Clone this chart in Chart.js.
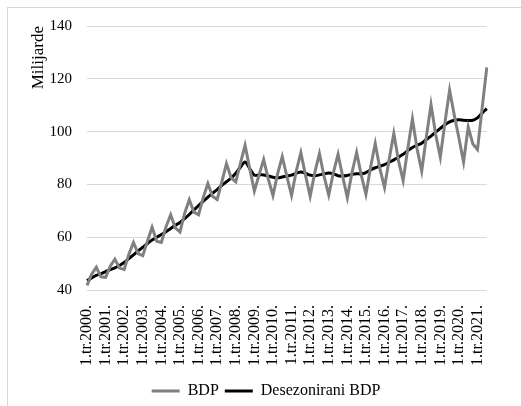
<!DOCTYPE html>
<html>
<head>
<meta charset="utf-8">
<script src="https://cdn.jsdelivr.net/npm/chart.js@4/dist/chart.umd.min.js"></script>
<style>
  html, body { margin: 0; padding: 0; background: #fff; overflow: hidden; }
  #wrap { position: relative; width: 521px; height: 406px; }
  #frame { position: absolute; left: 7px; top: 7px; width: 600px; height: 500px; border: 1px solid #d9d9d9; }
  canvas { position: absolute; left: 0; top: 0; }
</style>
</head>
<body>
<div id="wrap">
  <div id="frame"></div>
  <canvas id="myChart" width="521" height="406"></canvas>
</div>
<script>
// kvartali 2000Q1 - 2021Q3
const years = [2000, 2001, 2002, 2003, 2004, 2005, 2006, 2007, 2008, 2009, 2010,
  2011, 2012, 2013, 2014, 2015, 2016, 2017, 2018, 2019, 2020, 2021];
const lastQuarter = 3;

const bdp = [
  41.7, 46.0, 48.6, 45.0,
  44.8, 49.0, 51.7, 48.3,
  47.8, 53.5, 58.0, 53.8,
  53.0, 58.5, 63.8, 58.5,
  58.0, 64.0, 68.5, 63.5,
  62.0, 69.0, 74.2, 69.5,
  68.5, 75.0, 80.3, 75.5,
  74.3, 81.0, 87.9, 82.5,
  81.0, 88.0, 94.8, 86.0,
  77.5, 83.5, 89.4, 82.0,
  75.8, 84.0, 90.5, 83.0,
  75.8, 85.0, 92.0, 83.5,
  75.5, 84.5, 91.7, 83.0,
  76.0, 84.5, 91.4, 83.0,
  75.0, 84.5, 92.1, 83.5,
  76.2, 86.5, 95.5, 86.0,
  78.8, 89.5, 99.3, 89.0,
  81.5, 93.5, 104.8, 93.5,
  85.0, 98.0, 110.2, 99.0,
  90.3, 103.5, 115.7, 106.3,
  97.6, 88.5, 101.7, 95.3,
  93.2, 109.0, 124.3,
];

const desezonirani = [
  43.5, 44.6, 45.5, 46.2,
  47.0, 47.7, 48.4, 49.3,
  50.4, 51.9, 53.3, 54.8,
  56.2, 57.6, 58.9, 60.0,
  61.0, 62.1, 63.3, 64.5,
  65.6, 67.0, 68.6, 70.3,
  72.0, 73.6, 75.2, 76.7,
  78.0, 79.6, 81.0, 82.4,
  84.2, 86.5, 88.5, 86.0,
  83.5, 83.6, 83.6, 83.2,
  82.7, 82.5, 82.8, 83.2,
  83.5, 84.2, 84.7, 84.2,
  83.5, 83.3, 83.6, 84.0,
  84.3, 84.0, 83.3, 83.2,
  83.4, 83.8, 84.0, 84.0,
  84.5, 85.5, 86.3, 86.9,
  87.5, 88.4, 89.3, 90.3,
  91.4, 92.8, 94.0, 94.8,
  95.6, 97.0, 98.3, 99.8,
  101.2, 102.6, 103.7, 104.3,
  104.5, 104.3, 104.2, 104.3,
  105.2, 107.0, 108.7,
];

const yTicks = { min: 40, max: 140, step: 20 };

const labels = [];
years.forEach((y, i) => {
  const n = i === years.length - 1 ? lastQuarter : 4;
  for (let q = 1; q <= n; q++) labels.push(`${q}.tr.${y}.`);
});

const serif = "'Liberation Serif', 'Times New Roman', serif";

const myChart = new Chart(document.getElementById('myChart'), {
  type: 'line',
  data: {
    labels: labels,
    datasets: [
      {
        label: 'BDP',
        data: bdp,
        borderColor: '#808080',
        backgroundColor: '#808080',
        borderWidth: 3,
        pointRadius: 0,
        tension: 0,
      },
      {
        label: 'Desezonirani BDP',
        data: desezonirani,
        borderColor: '#000000',
        backgroundColor: '#000000',
        borderWidth: 3,
        pointRadius: 0,
        tension: 0.3,
      },
    ],
  },
  options: {
    responsive: false,
    animation: false,
    layout: { padding: { left: 24, right: 13, top: 26, bottom: -3 } },
    plugins: {
      tooltip: { enabled: false },
      legend: {
        position: 'bottom',
        labels: {
          usePointStyle: true,
          pointStyle: 'line',
          pointStyleWidth: 28,
          color: '#000',
          padding: 6,
          font: { family: serif, size: 16 },
        },
      },
    },
    scales: {
      x: {
        offset: false,
        grid: { display: false, drawTicks: false },
        border: { display: false },
        afterFit: (scale) => { scale.height = 87; },
        ticks: {
          autoSkip: false,
          minRotation: 90,
          maxRotation: 90,
          padding: 15,
          color: '#000',
          font: { family: serif, size: 16 },
          callback: function (val, index) {
            return index % 4 === 0 ? this.getLabelForValue(val) : '';
          },
        },
      },
      y: {
        min: yTicks.min,
        max: yTicks.max,
        afterFit: (scale) => { scale.width = 63; },
        grid: { color: '#d9d9d9', lineWidth: 1, drawTicks: false },
        border: { display: false },
        ticks: {
          stepSize: yTicks.step,
          padding: 15,
          color: '#000',
          font: { family: serif, size: 15 },
        },
        title: {
          display: true,
          text: 'Milijarde',
          align: 'end',
          color: '#000',
          font: { family: serif, size: 17 },
        },
      },
    },
  },
});
</script>
</body>
</html>
